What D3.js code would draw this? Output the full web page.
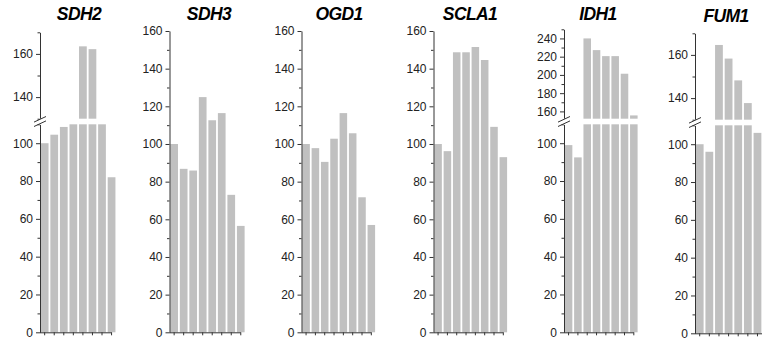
<!DOCTYPE html>
<html><head><meta charset="utf-8">
<script src="https://cdn.jsdelivr.net/npm/d3@7/dist/d3.min.js"></script>
<style>
html,body{margin:0;padding:0;background:#fff;}
svg{display:block;}
.tick text{font-family:"Liberation Sans",Arial,sans-serif;font-size:12px;fill:#222;}
</style></head>
<body>
<svg id="chart" width="762" height="340"></svg>
<script>
// ---- data ----
const samples = ["1","2","3","4","5","6","7","8"];
const genes = ["SDH2","SDH3","OGD1","SCLA1","IDH1","FUM1"];
const sdh2  = [100, 104.5, 108.6, 118, 163.5, 162.2, 118, 82];
const sdh3  = [100, 86.8, 85.9, 124.9, 112.6, 116.4, 73, 56.5];
const ogd1  = [100, 97.8, 90.5, 102.8, 116.4, 105.7, 71.7, 57];
const scla1 = [100, 96.2, 148.7, 148.7, 151.5, 144.6, 109.1, 93];
const idh1  = [99, 92.5, 240, 227.2, 220.6, 220.6, 201.3, 155.6];
const fum1  = [100, 96, 164.6, 158.3, 148.2, 137.7, 106, 87];
const seriesValues = [sdh2, sdh3, ogd1, scla1, idh1, fum1];
// axis segments: lower domain and optional upper (broken) domain
const lowerDomains = [[0,110],[0,160],[0,160],[0,160],[0,110],[0,110]];
const upperDomains = [[130,170],null,null,null,[152,250],[130,170]];
const lowerMajorTicks = [[0,20,40,60,80,100],[0,20,40,60,80,100,120,140,160],[0,20,40,60,80,100,120,140,160],[0,20,40,60,80,100,120,140,160],[0,20,40,60,80,100],[0,20,40,60,80,100]];
const upperMajorTicks = [[140,160],null,null,null,[160,180,200,220,240],[140,160]];

// ---- layout (positions/styles) ----
const layout = [
  {ax:40,   step:9.33, dy:0,   tx:79,  ty:19.5},
  {ax:169.5,step:9.29, dy:0,   tx:209, ty:19.5},
  {ax:301.5,step:9.1,  dy:0,   tx:339, ty:19.5},
  {ax:433.5,step:9.1,  dy:0,   tx:470, ty:19.5},
  {ax:564,  step:9.1,  dy:0,   tx:598, ty:19.5},
  {ax:695,  step:9.4,  dy:1,   tx:726, ty:21.5}
];
const Y0 = 332.3;          // baseline
const fullTop = 31;        // top for unbroken axis
const lowTop = 124.3;      // top of lower segment for broken axes
const upBot = 118.7, upTop = 32.3;
const barColor = "#c0c0c0", axisColor = "#333";

const svg = d3.select("#chart");

genes.forEach((g, i) => {
  const L = layout[i], vals = seriesValues[i];
  const up = upperDomains[i];
  const G = svg.append("g").attr("transform", `translate(0,${L.dy})`);
  const x = d3.scaleBand().domain(samples)
      .range([L.ax + 0.8, L.ax + 0.8 + L.step * 8]).paddingInner(0.19).paddingOuter(0);
  const yLow = d3.scaleLinear().domain(lowerDomains[i]).range([Y0, up ? lowTop : fullTop]);
  let yUp = null;
  if (up) yUp = d3.scaleLinear().domain(up).range([upBot, i===4 ? 29.3 : upTop]);

  // bars (lower)
  const lowMax = lowerDomains[i][1];
  G.selectAll(".barL").data(vals).join("rect")
    .attr("x", (d,k) => x(samples[k])).attr("width", x.bandwidth())
    .attr("y", d => yLow(Math.min(d, lowMax)))
    .attr("height", d => Y0 - yLow(Math.min(d, lowMax)))
    .attr("fill", barColor);
  if (up) {
    G.selectAll(".barU")
      .data(vals.map((v,k)=>({v,k})).filter(o => o.v > up[0])).join("rect")
      .attr("x", o => x(samples[o.k])).attr("width", x.bandwidth())
      .attr("y", o => yUp(o.v)).attr("height", o => upBot - yUp(o.v))
      .attr("fill", barColor);
  }

  // y axes
  function drawAxis(scale, majors) {
    const dom = scale.domain();
    const minors = d3.range(Math.ceil(dom[0]/10)*10, dom[1]+0.01, 10).filter(v => !majors.includes(v) && (v/10)%2===1);
    const a = G.append("g").attr("transform", `translate(${L.ax},0)`);
    a.call(d3.axisLeft(scale).tickValues(majors).tickSize(4).tickSizeOuter(0).tickPadding(3).tickFormat(d3.format("d")));
    a.select(".domain").attr("stroke", axisColor);
    a.selectAll(".tick line").attr("stroke", axisColor);
    const m = G.append("g").attr("transform", `translate(${L.ax},0)`);
    m.call(d3.axisLeft(scale).tickValues(minors).tickSize(2.5).tickSizeOuter(0).tickFormat(""));
    m.select(".domain").remove();
    m.selectAll(".tick line").attr("stroke", axisColor);
  }
  drawAxis(yLow, lowerMajorTicks[i]);
  if (up) {
    drawAxis(yUp, upperMajorTicks[i]);
    // break marks
    const yc = (upBot + lowTop) / 2;
    G.append("rect").attr("x", L.ax - 1).attr("y", upBot).attr("width", 2).attr("height", lowTop - upBot).attr("fill", "#fff");
    [-2.2, 2.2].forEach(o => {
      G.append("line").attr("x1", L.ax - 6).attr("y1", yc + o + 2.8)
        .attr("x2", L.ax + 6).attr("y2", yc + o - 2.8)
        .attr("stroke", axisColor).attr("stroke-width", 1);
    });
  }

  // x axis
  const xa = G.append("g").attr("transform", `translate(0,${Y0})`);
  xa.call(d3.axisBottom(x).tickSize(3).tickFormat(""));
  xa.select(".domain").remove();
  xa.selectAll(".tick line").attr("stroke", axisColor);
  G.append("line").attr("x1", L.ax).attr("x2", x(samples[7]) + x.bandwidth()/2)
    .attr("y1", Y0 + 0.5).attr("y2", Y0 + 0.5).attr("stroke", axisColor);

  // title
  svg.append("text").attr("x", L.tx).attr("y", L.ty).attr("text-anchor", "middle")
    .attr("font-family", "Liberation Sans, Arial, sans-serif")
    .attr("font-size", 17.5).attr("font-weight", "bold").attr("font-style", "italic")
    .attr("letter-spacing", -0.6)
    .attr("fill", "#000").text(g);
});
</script>
</body></html>
